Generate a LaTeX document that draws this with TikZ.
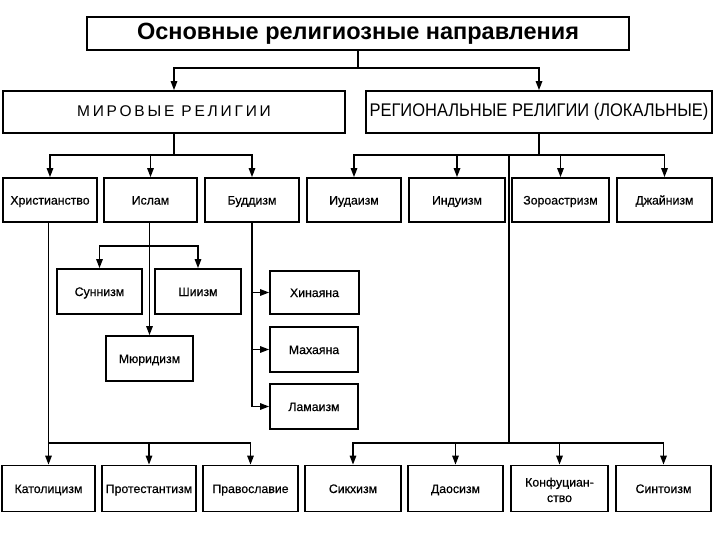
\documentclass[tikz,border=0pt]{standalone}
\usepackage{fontspec}
\setmainfont{Liberation Sans}
\newfontfamily\titlefont{Liberation Sans}
\newfontfamily\narrowfont[FakeStretch=0.9]{Liberation Sans}
\newfontfamily\spacedfont[LetterSpace=18]{Liberation Sans}
\newfontfamily\labelfont[FakeBold=0.5]{Liberation Sans}
\usetikzlibrary{arrows.meta}
\begin{document}
\begin{tikzpicture}[x=1pt,y=-1pt,
  box/.style={draw, line width=1.8pt, inner sep=1pt, align=center,
    text height=11pt, text depth=2pt,
    font=\labelfont\fontsize{12.3}{15.5}\selectfont},
  rowbox/.style={box, minimum height=44pt},
  subbox/.style={box, minimum height=45pt},
  conn/.style={line width=1.6pt},
  arr/.style={conn, -{Triangle[length=9pt,width=6.5pt]}}]
\useasboundingbox (0,0) rectangle (720,540);
\fill[white] (0,0) rectangle (720,540);

% top levels
\node[box, minimum width=542pt, minimum height=33pt, text height=17pt, text depth=5pt,
  font=\titlefont\bfseries\fontsize{23.5}{24}\selectfont] (title) at (358,33.5)
  {Основные религиозные направления};
\node[box, minimum width=342pt, minimum height=42pt, text height=11pt, text depth=2pt,
  font=\spacedfont\fontsize{15.5}{16}\selectfont] (mir) at (174,112)
  {МИРОВЫЕ РЕЛИГИИ};
\node[box, minimum width=346pt, minimum height=42pt, text height=13pt, text depth=3pt,
  font=\narrowfont\fontsize{18.3}{19}\selectfont] (reg) at (539,112)
  {РЕГИОНАЛЬНЫЕ РЕЛИГИИ (ЛОКАЛЬНЫЕ)};

% second row
\node[rowbox, minimum width=94pt] (hrist) at (50,200) {Христианство};
\node[rowbox, minimum width=93pt] (islam) at (150.5,200) {Ислам};
\node[rowbox, minimum width=94pt] (budd) at (252,200) {Буддизм};
\node[rowbox, minimum width=94pt] (iud) at (354,200) {Иудаизм};
\node[rowbox, minimum width=96pt] (ind) at (457,200) {Индуизм};
\node[rowbox, minimum width=97pt] (zor) at (560.5,200) {Зороастризм};
\node[rowbox, minimum width=95pt] (dzh) at (664.5,200) {Джайнизм};

% islam branches
\node[subbox, minimum width=85pt] (sunni) at (99.5,291.5) {Суннизм};
\node[subbox, minimum width=86pt] (shii) at (198,291.5) {Шиизм};
\node[subbox, minimum width=87pt] (murid) at (149.5,358.5) {Мюридизм};

% buddhism branches
\node[box, minimum width=89pt, minimum height=43pt] (hina) at (314.5,292.5) {Хинаяна};
\node[subbox, minimum width=88pt] (maha) at (314,349.5) {Махаяна};
\node[subbox, minimum width=88pt] (lama) at (314,406.5) {Ламаизм};

% bottom row
\node[box, minimum height=46pt, minimum width=93pt] (kat) at (48.5,488.5) {Католицизм};
\node[box, minimum height=46pt, minimum width=94pt] (prot) at (149,488.5) {Протестантизм};
\node[box, minimum height=46pt, minimum width=95pt] (prav) at (250.5,488.5) {Православие};
\node[box, minimum height=46pt, minimum width=96pt] (sikh) at (353,488.5) {Сикхизм};
\node[box, minimum height=46pt, minimum width=95pt] (dao) at (455.5,488.5) {Даосизм};
\node[box, minimum height=46pt, minimum width=97pt, text height=29pt, text depth=2pt] (konf) at (559.5,488.5) {Конфуциан-\\ство};
\node[box, minimum height=46pt, minimum width=95pt] (sint) at (663.5,488.5) {Синтоизм};

% junctions
\coordinate (j1) at (358,68);
\coordinate (jm) at (174,155);
\coordinate (jr) at (539,155);
\coordinate (jv) at (509,155);
\coordinate (jb) at (509,443);
\coordinate (jl) at (48.5,443);
\coordinate (js) at (150.5,246);

% connectors
\draw[conn] (title) -- (j1);
\draw[arr] (j1) -| (mir);
\draw[arr] (j1) -| (reg);

\draw[conn] (mir) -- (jm);
\draw[arr] (jm) -| (hrist);
\draw[arr] (jm) -| (islam);
\draw[arr] (jm) -| (budd);

\draw[conn] (reg) -- (jr);
\draw[arr] (jr) -| (iud);
\draw[arr] (jr) -| (ind);
\draw[arr] (jr) -| (zor);
\draw[arr] (jr) -| (dzh);

\draw[conn] (jv) -- (jb);
\draw[arr] (jb) -| (sikh);
\draw[arr] (jb) -| (dao);
\draw[arr] (jb) -| (konf);
\draw[arr] (jb) -| (sint);

\draw[arr] (hrist.south -| kat.north) -- (kat.north);
\draw[arr] (jl) -| (prot);
\draw[arr] (jl) -| (prav);

\draw[arr] (islam.south -| murid.north) -- (murid.north);
\draw[arr] (js) -| (sunni);
\draw[arr] (js) -| (shii);

\draw[arr] (budd.south) |- (hina.west);
\draw[arr] (budd.south) |- (maha.west);
\draw[arr] (budd.south) |- (lama.west);
\end{tikzpicture}
\end{document}
